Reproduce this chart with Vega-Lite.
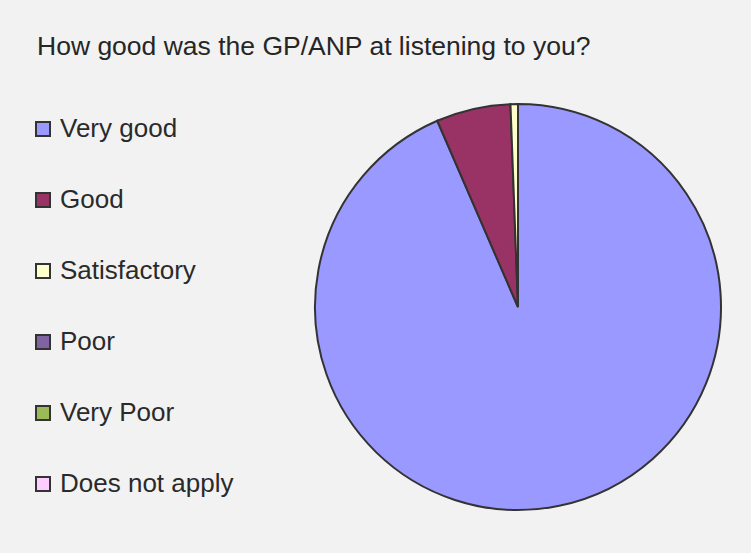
{
  "$schema": "https://vega.github.io/schema/vega-lite/v6.json",
  "autosize": "none",
  "width": 406,
  "height": 406,
  "padding": {"left": 315, "top": 104, "right": 30, "bottom": 43},
  "background": "#f2f2f2",
  "title": {
    "text": "How good was the GP/ANP at listening to you?",
    "anchor": "start",
    "frame": "group",
    "dx": -278,
    "offset": 40,
    "font": "Liberation Sans",
    "fontSize": 26.5,
    "fontWeight": "normal",
    "color": "#262626"
  },
  "data": {
    "values": [
      {"category": "Very good", "count": 158, "order": 1},
      {"category": "Good", "count": 10, "order": 2},
      {"category": "Satisfactory", "count": 1, "order": 3},
      {"category": "Poor", "count": 0, "order": 4},
      {"category": "Very Poor", "count": 0, "order": 5},
      {"category": "Does not apply", "count": 0, "order": 6}
    ]
  },
  "mark": {"type": "arc", "stroke": "#333333", "strokeWidth": 2},
  "encoding": {
    "theta": {"field": "count", "type": "quantitative", "stack": true},
    "order": {"field": "order", "type": "quantitative"},
    "color": {
      "field": "category",
      "type": "nominal",
      "sort": ["Very good", "Good", "Satisfactory", "Poor", "Very Poor", "Does not apply"],
      "scale": {
        "domain": ["Very good", "Good", "Satisfactory", "Poor", "Very Poor", "Does not apply"],
        "range": ["#9999ff", "#993366", "#ffffcc", "#8064a2", "#9bbb59", "#ffccff"]
      },
      "legend": {
        "title": null,
        "orient": "none",
        "legendX": -285,
        "legendY": 12,
        "symbolType": "square",
        "symbolSize": 196,
        "symbolStrokeColor": "#333333",
        "symbolStrokeWidth": 2,
        "symbolOpacity": 1,
        "labelFont": "Liberation Sans",
        "labelFontSize": 26,
        "labelColor": "#2a2a2a",
        "labelOffset": 4,
        "rowPadding": 45,
        "labelLimit": 300
      }
    }
  },
  "config": {"view": {"stroke": null}}
}
